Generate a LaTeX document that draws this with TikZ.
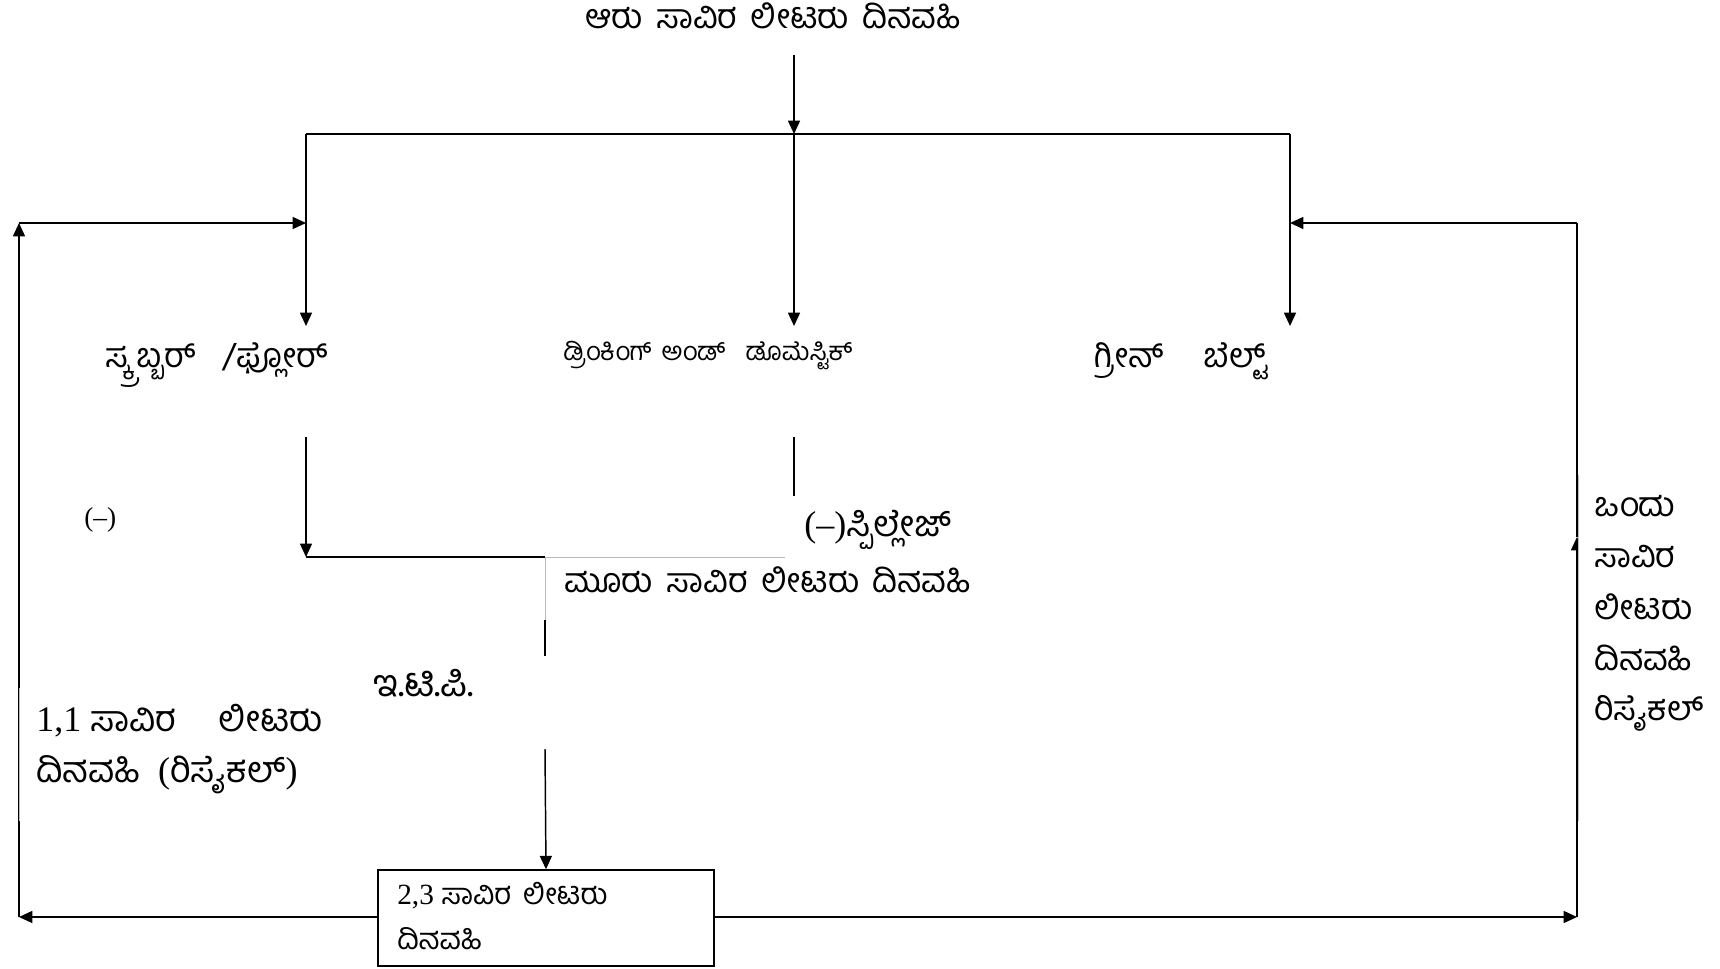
\documentclass[tikz,border=0pt]{standalone}
\usepackage{fontspec}
\setmainfont{Liberation Serif}
\newfontfamily\kn[Script=Kannada,WordSpace=1.6]{Hind Mysuru}
\usetikzlibrary{arrows.meta}
\newcommand{\myfs}[1]{\fontsize{#1}{#1}\selectfont}
\begin{document}
\begin{tikzpicture}[x=0.75pt,y=-0.75pt,
  lbl/.style={inner sep=0pt, anchor=base west},
  big/.style={font=\myfs{25.5pt}},
  mid/.style={font=\myfs{19.3pt}},
  small/.style={font=\myfs{22pt}},
  ln/.style={line width=1.1pt},
  arr/.style={ln, -{Triangle[length=10pt,width=9pt]}},
  faint/.style={line width=0.6pt, draw=gray!55}]
\useasboundingbox (0,0) rectangle (1720,969);

% texts
\node[lbl, big, anchor=base] (top) at (773,29) {\kn ಆರು ಸಾವಿರ ಲೀಟರು ದಿನವಹಿ};
\node[lbl, big] (scrub) at (105,368) {\kn ಸ್ಕ್ರಬ್ಬರ್ \ /ಫ್ಲೋರ್};
\node[lbl, mid] (drink) at (563,361) {\kn ಡ್ರಿಂಕಿಂಗ್ ಅಂಡ್ \ ಡೊಮೆಸ್ಟಿಕ್};
\node[lbl, big] (green) at (1094,368) {\kn ಗ್ರೀನ್ \ \ ಬೆಲ್ಟ್};

% coordinates
\coordinate (tdown) at (794,55);
\coordinate (tsplit) at (794,134);
\coordinate (tl) at (306,134);
\coordinate (tr) at (1290,134);
\coordinate (a1) at (306,326);
\coordinate (a2) at (794,326);
\coordinate (a3) at (1290,326);
\coordinate (s1) at (306,437);
\coordinate (s2) at (306,557);
\coordinate (d1) at (794,437);
\coordinate (d2) at (794,496);
\coordinate (m0) at (545,557);
\coordinate (m1) at (545,620);
\coordinate (m2) at (545,656);
\coordinate (m3) at (545,749);
\coordinate (mr) at (785,557);
\coordinate (lb) at (19,917);
\coordinate (lt) at (19,223);
\coordinate (la) at (306,223);
\coordinate (rb) at (1577,917);
\coordinate (rm) at (1577,537);
\coordinate (rt) at (1577,223);
\coordinate (ra) at (1290,223);

% box
\node[draw, ln, minimum width=252pt, minimum height=72pt, inner sep=0pt] (box) at (546,918) {};

% connectors
\draw[arr] (tdown) -- (tsplit);
\draw[ln] (tl) -- (tr);
\draw[arr] (tl) -- (a1);
\draw[arr] (tsplit) -- (a2);
\draw[arr] (tr) -- (a3);
\draw[arr] (s1) -- (s2);
\draw[ln] (s2) -- (m0);
\draw[ln] (d1) -- (d2);
\draw[ln] (m1) -- (m2);
\draw[arr] (m3) -- (box.north);
\draw[arr] (box.west |- lb) -- (lb);
\draw[arr] (lb) -- (lt);
\draw[arr] (lt) -- (la);
\draw[arr] (box.east |- rb) -- (rb);
\draw[arr] (rb) -- (rm);
\draw[ln] (rm) -- (rt);
\draw[arr] (rt) -- (ra);

% text boxes covering the side lines
\fill[white] (19.6,688) rectangle (330,821);
\draw[faint] (19,688) -- (19,821);
\fill[white] (1578,475) rectangle (1720,821);
\draw[faint] (1578,475) -- (1578,821);
\draw[faint] (m0) -- (mr);
\draw[faint] (m0) -- (m1);

% remaining texts
\node[lbl, font=\myfs{20.5pt}] (minus) at (84,527) {(–)};
\node[lbl, font=\myfs{27pt}] (spill) at (804,537) {(–){\kn ಸ್ಪಿಲ್ಲೇಜ್}};
\node[lbl, big] (mooru) at (564,592) {\kn ಮೂರು ಸಾವಿರ ಲೀಟರು ದಿನವಹಿ};
\node[lbl, font=\myfs{28pt}] (etp) at (373,696) {\kn ಇ.ಟಿ.ಪಿ.};
\node[lbl, font=\myfs{27pt}] (l1) at (36,731) {1,1 {\kn ಸಾವಿರ \ \ ಲೀಟರು}};
\node[lbl, font=\myfs{27pt}] (l2) at (36,782) {{\kn ದಿನವಹಿ}\ \ ({\kn ರಿಸೈಕಲ್})};
\node[lbl, big] (r1) at (1594,516) {\kn ಒಂದು};
\node[lbl, big] (r2) at (1594,567) {\kn ಸಾವಿರ};
\node[lbl, big] (r3) at (1594,619) {\kn ಲೀಟರು};
\node[lbl, big] (r4) at (1594,670) {\kn ದಿನವಹಿ};
\node[lbl, big] (r5) at (1594,720) {\kn ರಿಸೈಕಲ್};
\node[lbl, small] (b1) at (397,904) {2,3 {\kn ಸಾವಿರ ಲೀಟರು}};
\node[lbl, small] (b2) at (397,949) {\kn ದಿನವಹಿ};
\end{tikzpicture}
\end{document}
